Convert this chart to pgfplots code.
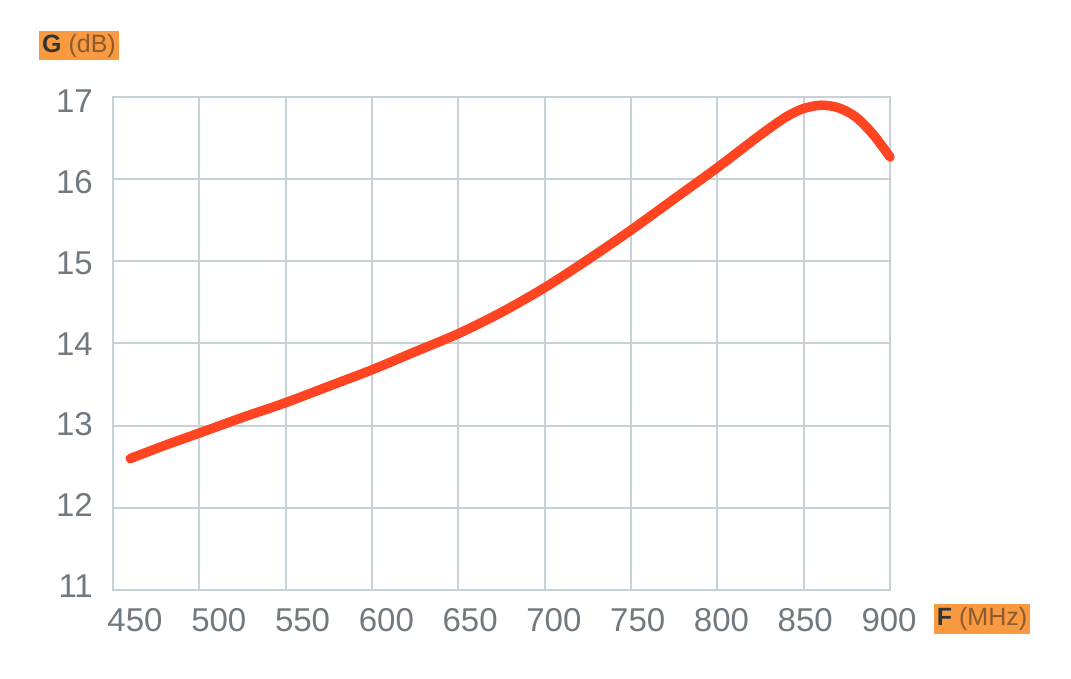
\documentclass[border=0pt]{standalone}
\usepackage{fontspec}
\setmainfont{Liberation Sans}
\usepackage{pgfplots}
\pgfplotsset{compat=1.18}
\definecolor{gridc}{HTML}{C6D2D7}
\definecolor{curve}{HTML}{FF4422}
\definecolor{tickc}{HTML}{707880}
\definecolor{labbg}{HTML}{FA9A40}
\definecolor{labtxt}{HTML}{8A5A30}
\begin{document}
\begin{tikzpicture}[x=1pt,y=1pt]
\path (0,0) rectangle (1071,679);
\begin{axis}[
  at={(113pt,89pt)}, anchor=south west,
  width=777pt, height=493pt, scale only axis,
  xmin=450, xmax=900, ymin=11, ymax=17,
  xtick={450,500,...,900}, ytick={11,...,17},
  grid=major,
  major grid style={gridc, line width=2pt},
  axis line style={gridc, line width=2pt},
  major tick length=0pt,
  /pgf/number format/assume math mode=true,
  /pgf/number format/1000 sep={},
  tick label style={font=\fontsize{33}{34}\selectfont, text=tickc, inner sep=0pt},
  xticklabel shift={18pt},
  yticklabel shift={20pt},
  xticklabel style={xshift={22pt-2.55pt*\ticknum}},
  yticklabel style={yshift={4pt-1.42pt*\ticknum}},
  clip=false,
]
\addplot[curve, line width=9.5pt, smooth, line cap=round] coordinates {
(460,12.60) (480,12.76) (500,12.91) (525,13.10) (550,13.28) (575,13.48) (600,13.68)
(625,13.90) (650,14.12) (675,14.38) (700,14.68) (725,15.02) (750,15.38) (775,15.76)
(800,16.14) (825,16.54) (840,16.76) (850,16.86) (860,16.90) (870,16.87) (880,16.76)
(890,16.55) (900,16.27)
};
\end{axis}
\node[fill=labbg, inner xsep=3pt, inner ysep=0pt, minimum height=29pt, font=\fontsize{25}{26}\selectfont] at (79,633) {\textcolor{black!80}{\textbf{G}} \textcolor{labtxt}{(dB)}};
\node[fill=labbg, inner xsep=3pt, inner ysep=0pt, minimum height=30pt, font=\fontsize{25}{26}\selectfont] at (982,60) {\textcolor{black!80}{\textbf{F}} \textcolor{labtxt}{(MHz)}};
\end{tikzpicture}
\end{document}
